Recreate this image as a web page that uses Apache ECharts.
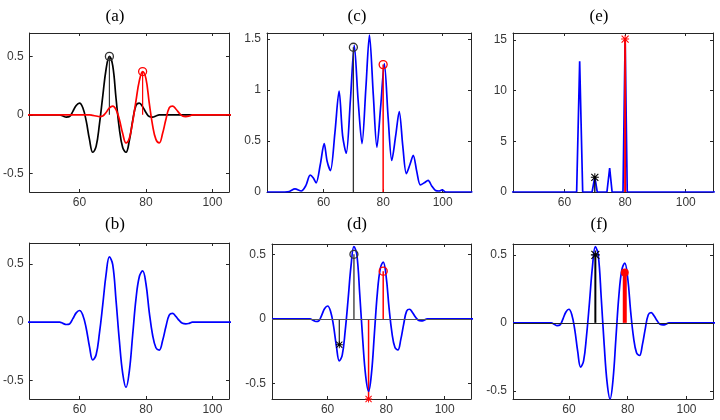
<!DOCTYPE html>
<html><head><meta charset="utf-8">
<script src="https://cdn.jsdelivr.net/npm/echarts@6/dist/echarts.min.js"></script>
<style>html,body{margin:0;padding:0;background:#fff}#c{width:720px;height:420px}</style>
</head><body><div id="c"></div>
<script>
// ---------- data ----------
const waveX = [41,52,53,54,55,56,57,58,59,60,61,62,63,64,65,66,67,68,69,70,71,72,73,74,75,76,77,78,79,80,81,82,83,84,85,86,87,88,89,90,91,92,93,94,95,96,110];
const aBlack = [0, 0,0,0,-0.01,-0.02,-0.015,0.03,0.08,0.10,0.06,-0.05,-0.21,-0.32,-0.27,-0.08,0.16,0.39,0.5,0.42,0.14,-0.12,-0.28,-0.32,-0.22,-0.05,0.08,0.10,0.07,0.02,-0.015,-0.02,-0.01,0, 0,0,0,0,0,0,0,0,0,0,0,0, 0];
const aRed = [0, 0,0,0,0,0,0,0,0,0,0,0,0, -0.005,-0.01,-0.015,-0.01,0.02,0.06,0.075,0.045,-0.04,-0.16,-0.24,-0.2,-0.06,0.12,0.29,0.37,0.31,0.1,-0.09,-0.21,-0.24,-0.16,-0.04,0.06,0.075,0.05,0.015,-0.01,-0.015,-0.01,0,0,0, 0];
const sumBlue = [0, 0,0,0,-0.01,-0.02,-0.015,0.03,0.08,0.10,0.06, -0.05,-0.21,-0.325,-0.28,-0.095,0.15,0.41,0.56,0.495,0.185, -0.16,-0.44,-0.56,-0.42,-0.11,0.2,0.39,0.44,0.33,0.085, -0.11,-0.22,-0.24,-0.16,-0.04,0.06,0.075,0.05,0.015,-0.01, -0.015,-0.01,0,0,0, 0];

const specX = [41,47,48.5,50.4,52.5,54,55.5,56.5,57.5,58.9,60.2,61.2,62.3,63.8,65.2,66.4,67.6,69,70.3,71.6,72.9,74.2,75.4,76.7,77.9,79.2,80.4,81.7,82.9,84.2,85.4,86.6,87.8,89,90.1,91.3,92.5,93.8,95.1,96.3,97.6,98.8,99.8,101,110];
const specY = [0,0,0.005,0.03,0.01,0.06,0.165,0.14,0.09,0.27,0.475,0.3,0.21,0.58,0.99,0.55,0.38,0.9,1.44,0.9,0.475,1.02,1.54,0.95,0.44,0.85,1.26,0.72,0.31,0.55,0.79,0.45,0.18,0.27,0.36,0.2,0.07,0.09,0.115,0.06,0.015,0.01,0.02,0,0];

const spikeX = [41,64,65,66,69.1,70,70.8,74,74.9,75.7,79.3,80,80.7,110];
const spikeY = [0,0,12.9,0,0,1.5,0,0,2.35,0,0,15.1,0,0];

const aStemBlackX = [69], aStemBlackY = [0.5];
const aStemRedX = [79], aStemRedY = [0.37];
const cStemBlackX = [70], cStemBlackY = [1.42];
const cStemRedX = [80], cStemRedY = [1.25];
const dStemBlackX = [69, 64], dStemBlackY = [0.5, -0.2];
const dStemRedX = [79, 74], dStemRedY = [0.37, -0.62];
const eStemBlackX = [70], eStemBlackY = [1.45];
const eStemRedX = [80], eStemRedY = [15.1];
const fStemBlackX = [69], fStemBlackY = [0.5];
const fStemRedX = [79], fStemRedY = [0.37];

const xTicks = [60, 80, 100];
const waveYTicks = [-0.5, 0, 0.5];
const specYTicks = [0, 0.5, 1, 1.5];
const spikeYTicks = [0, 5, 10, 15];
const titles = ['(a)', '(b)', '(c)', '(d)', '(e)', '(f)'];

// ---------- layout ----------
const L = [
  {left:29, top:33, width:200, height:159, xmin:45, xmax:105, ymin:-0.66, ymax:0.7, yt:waveYTicks, tx:115, ty:17},
  {left:29, top:243, width:200, height:156, xmin:45, xmax:105, ymin:-0.66, ymax:0.68, yt:waveYTicks, tx:115, ty:225},
  {left:267, top:33, width:204, height:159, xmin:41, xmax:109.5, ymin:0, ymax:1.56, yt:specYTicks, tx:357, ty:17},
  {left:272, top:244, width:199, height:155, xmin:41, xmax:109, ymin:-0.62, ymax:0.58, yt:waveYTicks, tx:357, ty:225},
  {left:513, top:33, width:200, height:159, xmin:43, xmax:109, ymin:0, ymax:15.7, yt:spikeYTicks, tx:599, ty:17},
  {left:513, top:244, width:200, height:155, xmin:41, xmax:109, ymin:-0.56, ymax:0.58, yt:waveYTicks, tx:599, ty:225}
];
const FONT = 'Liberation Sans';
const AX = '#262626';
const ASTER = 'path://M-0.8,-6.4 L0.8,-6.4 L0.8,6.4 L-0.8,6.4 Z M-6.4,-0.8 L6.4,-0.8 L6.4,0.8 L-6.4,0.8 Z M-5,-6.2 L6.2,5 L5,6.2 L-6.2,-5 Z M-6.2,5 L5,-6.2 L6.2,-5 L-5,6.2 Z';

const grids = [], xAxes = [], yAxes = [], series = [];
L.forEach((l, i) => {
  grids.push({left:l.left, top:l.top, width:l.width, height:l.height});
  ['bottom','top'].forEach(pos => xAxes.push({
    type:'value', gridIndex:i, min:l.xmin, max:l.xmax, position:pos,
    axisLine:{show:true, onZero:false, lineStyle:{color:AX, width:1}},
    axisTick:{show:true, inside:true, length:3, customValues:xTicks, lineStyle:{color:AX}},
    axisLabel:{show:pos==='bottom', customValues:xTicks, color:'#383838', fontSize:12, fontFamily:FONT, margin:5},
    splitLine:{show:false}
  }));
  ['left','right'].forEach(pos => yAxes.push({
    type:'value', gridIndex:i, min:l.ymin, max:l.ymax, position:pos,
    axisLine:{show:true, onZero:false, lineStyle:{color:AX, width:1}},
    axisTick:{show:true, inside:true, length:3, customValues:l.yt, lineStyle:{color:AX}},
    axisLabel:{show:pos==='left', customValues:l.yt, color:'#383838', fontSize:12, fontFamily:FONT, margin:6},
    splitLine:{show:false}
  }));
});

function pairs(xs, ys){ return xs.map((x, k) => [x, ys[k]]); }
function curve(i, xs, ys, color, smooth){
  return {type:'line', xAxisIndex:2*i, yAxisIndex:2*i, data:pairs(xs, ys), showSymbol:false, symbol:'none',
    smooth:smooth, lineStyle:{color:color, width:1.7}, itemStyle:{color:color}, silent:true, animation:false};
}
function stems(i, xs, ys, color, width, sym, size, filled){
  return xs.map((x, k) => ({
    type:'line', xAxisIndex:2*i, yAxisIndex:2*i, silent:true, animation:false,
    data:[{value:[x, 0], symbol:'none'}, {value:[x, ys[k]], symbol:sym, symbolSize:size}],
    showSymbol:true, lineStyle:{color:color, width:width},
    itemStyle:{color: filled ? color : 'rgba(0,0,0,0)', borderColor:color, borderWidth: filled ? 0 : 1.3}
  }));
}
function baseline(i, color){
  return {type:'line', xAxisIndex:2*i, yAxisIndex:2*i, data:[], silent:true, animation:false,
    markLine:{silent:true, symbol:'none', animation:false, label:{show:false},
      lineStyle:{color:color, width:1, type:'solid'}, data:[{yAxis:0}]}};
}

// (a)
series.push(curve(0, waveX, aBlack, '#000000', 0.4));
series.push(...stems(0, aStemBlackX, aStemBlackY, '#333333', 1.2, 'circle', 8, false));
series.push(curve(0, waveX, aRed, '#ff0000', 0.4));
series.push(...stems(0, aStemRedX, aStemRedY, '#ff0000', 1.2, 'circle', 8, false));
// (b)
series.push(curve(1, waveX, sumBlue, '#0000ff', 0.4));
// (c)
series.push(curve(2, specX, specY, '#0000ff', 0.3));
series.push(...stems(2, cStemBlackX, cStemBlackY, '#333333', 1.3, 'circle', 8, false));
series.push(...stems(2, cStemRedX, cStemRedY, '#ff0000', 1.5, 'circle', 8, false));
// (d)
series.push(baseline(3, '#555555'));
series.push(...stems(3, dStemBlackX, dStemBlackY, '#333333', 1.3, 'circle', 8, false));
series[series.length-1].data[1].symbol = ASTER; series[series.length-1].data[1].symbolSize = 7;
series[series.length-1].itemStyle = {color:'#000'};
series.push(...stems(3, dStemRedX, dStemRedY, '#ff0000', 1.5, 'circle', 8, false));
series[series.length-1].data[1].symbol = ASTER; series[series.length-1].data[1].symbolSize = 7;
series[series.length-1].itemStyle = {color:'#ff0000'};
series.push(curve(3, waveX, sumBlue, '#0000ff', 0.4));
// (e)
series.push(curve(4, spikeX, spikeY, '#0000ff', false));
series.push(...stems(4, eStemBlackX, eStemBlackY, '#000000', 1.3, ASTER, 8, true));
series.push(...stems(4, eStemRedX, eStemRedY, '#ff0000', 2, ASTER, 8, true));
// (f)
series.push(baseline(5, '#222222'));
series.push(curve(5, waveX, sumBlue, '#0000ff', 0.4));
series.push(...stems(5, fStemBlackX, fStemBlackY, '#000000', 2, ASTER, 9, true));
series.push(...stems(5, fStemRedX, fStemRedY, '#ff0000', 4, 'circle', 8, true));

const graphics = L.map((l, i) => ({
  type:'text', x:l.tx, y:l.ty, silent:true,
  style:{text:titles[i], fill:'#000', font:'17px "Liberation Serif"', textAlign:'center', textVerticalAlign:'middle'}
}));

const chart = echarts.init(document.getElementById('c'), null, {renderer:'canvas', width:720, height:420});
chart.setOption({
  animation:false, backgroundColor:'#ffffff',
  grid:grids, xAxis:xAxes, yAxis:yAxes, series:series, graphic:graphics
});
</script></body></html>
